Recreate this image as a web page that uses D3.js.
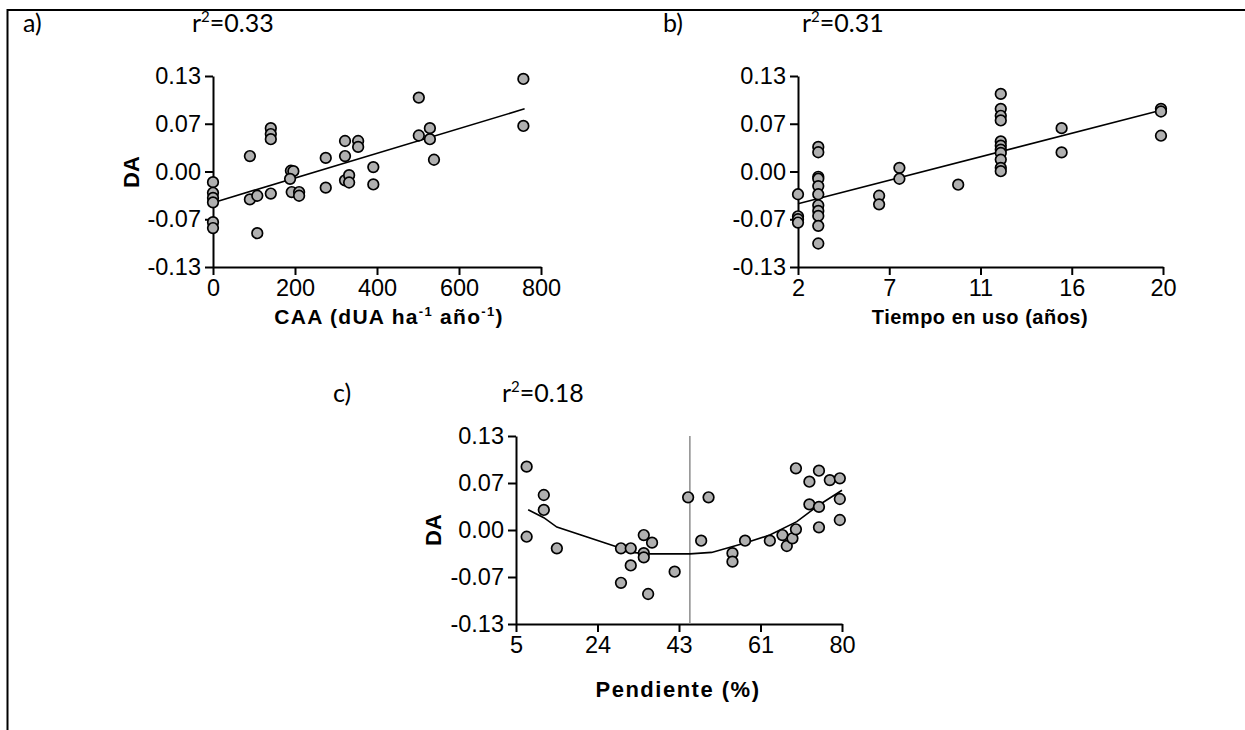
<!DOCTYPE html>
<html>
<head>
<meta charset="utf-8">
<script src="https://cdn.jsdelivr.net/npm/d3@7"></script>
<style>
  body { margin: 0; background: #fff; }
  svg { display: block; }
  .tick text { font-family: "Liberation Sans", Arial, sans-serif; font-size: 23.5px; fill: #000; }
  .domain, .tick line { stroke: #000; stroke-width: 2px; }
  .title { font-family: "Liberation Sans", Arial, sans-serif; font-weight: bold; }
  .panel { font-family: Lato, "Open Sans", sans-serif; font-size: 25px; }
</style>
</head>
<body>
<svg id="fig" width="1245" height="730"></svg>
<script>
// shared y ticks (labels are rounded in the original figure)
const daTicks = [-0.13, -0.065, 0, 0.065, 0.13];
const daTickLabels = ['-0.13', '-0.07', '0.00', '0.07', '0.13'];

// a) CAA
const caaTicks = [0, 200, 400, 600, 800];
const caaTickLabels = ['0', '200', '400', '600', '800'];
const caaX = [0, 0, 0, 0, 0, 0, 90, 90, 108, 108, 141, 141, 141, 141, 190, 196, 188, 192,
  210, 210, 275, 275, 322, 322, 322, 332, 332, 354, 354, 391, 391, 502, 502, 529, 529, 539, 757, 757];
const caaY = [-0.0145, -0.029, -0.036, -0.042, -0.069, -0.077, 0.021, -0.038, -0.033, -0.084,
  0.059, 0.051, 0.044, -0.030, 0.001, 0.0005, -0.010, -0.028, -0.028, -0.033, 0.0185, -0.022,
  0.0415, 0.021, -0.012, -0.005, -0.015, 0.0415, 0.0335, 0.006, -0.0176, 0.1006, 0.049,
  0.059, 0.044, 0.016, 0.126, 0.062];
const caaFitX = [0, 760];
const caaFitY = [-0.0424, 0.0853];

// b) Tiempo en uso
const tiempoTicks = [2, 6.5, 11, 15.5, 20];
const tiempoTickLabels = ['2', '7', '11', '16', '20'];
const tiempoX = [2, 2, 2, 2, 3, 3, 3, 3, 3, 3, 3, 3, 3, 3, 3, 6, 6, 7, 7, 9.9,
  12, 12, 12, 12, 12, 12, 12, 12, 12, 12, 12, 15, 15, 19.9, 19.9, 19.9];
const tiempoY = [-0.031, -0.061, -0.065, -0.0695,
  0.0334, 0.0262, -0.0072, -0.0099, -0.0199, -0.031, -0.046, -0.0537, -0.0605, -0.074, -0.098,
  -0.033, -0.0447, 0.005, -0.0099, -0.018,
  0.1056, 0.0853, 0.0758, 0.0695, 0.041, 0.0352, 0.0298, 0.0253, 0.0162, 0.005, 0.0004,
  0.059, 0.026, 0.0853, 0.0817, 0.0487];
const tiempoFitX = [2, 20];
const tiempoFitY = [-0.0438, 0.084];

// c) Pendiente
const pendTicks = [5, 23.75, 42.5, 61.25, 80];
const pendTickLabels = ['5', '24', '43', '61', '80'];
const pendX = [7.45, 7.45, 11.4, 11.4, 14.4, 29.15, 31.4, 31.4, 29.15, 34.4, 34.4, 34.4, 36.3, 35.4,
  41.5, 44.6, 47.6, 49.3, 54.8, 54.8, 57.7, 63.4, 66.3, 67.3, 68.6, 69.4, 69.4, 72.5, 72.5,
  74.7, 74.7, 74.7, 77.2, 79.5, 79.5, 79.5];
const pendY = [0.0876, -0.0093, 0.0484, 0.0277, -0.0253, -0.0253, -0.0253, -0.049, -0.073, -0.007,
  -0.032, -0.0378, -0.0175, -0.0885, -0.0577, 0.0452, -0.0148, 0.0452, -0.032, -0.0438, -0.0148,
  -0.0148, -0.007, -0.0221, -0.0115, 0.001, 0.0853, 0.0668, 0.0355, 0.082, 0.032, 0.0037,
  0.069, 0.0715, 0.0429, 0.0138];
const pendFitX = [7.8, 11.4, 14.4, 29, 31.5, 36, 45, 50, 57.7, 63.4, 69.6, 74.7, 80];
const pendFitY = [0.028, 0.017, 0.004, -0.025, -0.031, -0.033, -0.033, -0.031, -0.018, -0.007, 0.0115, 0.0346, 0.055];
const pendBreak = 45;

const svg = d3.select('#fig');

// outer frame (right and bottom edges fall outside the page)
svg.append('rect')
  .attr('x', 7.5).attr('y', 10).attr('width', 1260).attr('height', 760)
  .attr('fill', 'none').attr('stroke', '#000').attr('stroke-width', 2);

function panel(opt) {
  const x = d3.scaleLinear().domain(opt.xDomain).range(opt.xRange);
  const y = d3.scaleLinear().domain([-0.13, 0.13]).range(opt.yRange);
  const g = svg.append('g');

  g.append('g')
    .attr('transform', `translate(0,${opt.yRange[0]})`)
    .call(d3.axisBottom(x).tickValues(opt.xTicks)
      .tickFormat((d, i) => opt.xTickLabels[i]).tickSize(8).tickSizeOuter(0).tickPadding(4));
  g.append('g')
    .attr('transform', `translate(${opt.xRange[0]},0)`)
    .call(d3.axisLeft(y).tickValues(daTicks)
      .tickFormat((d, i) => daTickLabels[i]).tickSize(8).tickSizeOuter(0).tickPadding(4));

  if (opt.vline != null) {
    g.append('line')
      .attr('x1', x(opt.vline)).attr('x2', x(opt.vline))
      .attr('y1', y(0.13)).attr('y2', y(-0.13))
      .attr('stroke', '#8c8c8c').attr('stroke-width', 1.5);
  }

  const line = d3.line().x(d => x(d[0])).y(d => y(d[1]));
  g.append('path')
    .datum(d3.zip(opt.fitX, opt.fitY))
    .attr('d', line)
    .attr('fill', 'none').attr('stroke', '#000').attr('stroke-width', 1.6);

  g.selectAll('.pt')
    .data(d3.zip(opt.px, opt.py))
    .enter()
    .append('circle')
    .attr('class', 'pt')
    .attr('cx', d => x(d[0]))
    .attr('cy', d => y(d[1]))
    .attr('r', 5.3)
    .attr('fill', '#b0b0b0')
    .attr('stroke', '#000')
    .attr('stroke-width', 1.7);

  return { x, y, g };
}

panel({
  xDomain: [0, 800], xRange: [213, 541], yRange: [267, 76],
  xTicks: caaTicks, xTickLabels: caaTickLabels,
  px: caaX, py: caaY, fitX: caaFitX, fitY: caaFitY
});
panel({
  xDomain: [2, 20], xRange: [798, 1163], yRange: [267, 76],
  xTicks: tiempoTicks, xTickLabels: tiempoTickLabels,
  px: tiempoX, py: tiempoY, fitX: tiempoFitX, fitY: tiempoFitY
});
panel({
  xDomain: [5, 80], xRange: [516, 842], yRange: [624, 436],
  xTicks: pendTicks, xTickLabels: pendTickLabels,
  px: pendX, py: pendY, fitX: pendFitX, fitY: pendFitY, vline: pendBreak
});

// axis titles
const caaTitle = svg.append('text').attr('class', 'title')
  .attr('x', 389).attr('y', 324).attr('text-anchor', 'middle')
  .style('font-size', '21px').style('letter-spacing', '1.3px');
caaTitle.append('tspan').text('CAA (dUA ha');
caaTitle.append('tspan').attr('dy', -8).style('font-size', '13px').text('-1');
caaTitle.append('tspan').attr('dy', 8).text(' año');
caaTitle.append('tspan').attr('dy', -8).style('font-size', '13px').text('-1');
caaTitle.append('tspan').attr('dy', 8).text(')');

svg.append('text').attr('class', 'title')
  .attr('x', 980).attr('y', 324).attr('text-anchor', 'middle')
  .style('font-size', '20px').style('letter-spacing', '0.5px')
  .text('Tiempo en uso (años)');

svg.append('text').attr('class', 'title')
  .attr('x', 678).attr('y', 697).attr('text-anchor', 'middle')
  .style('font-size', '22px').style('letter-spacing', '1.5px')
  .text('Pendiente (%)');

svg.append('text').attr('class', 'title')
  .attr('transform', 'translate(139,172) rotate(-90)').attr('text-anchor', 'middle')
  .style('font-size', '22px').text('DA');
svg.append('text').attr('class', 'title')
  .attr('transform', 'translate(441,530) rotate(-90)').attr('text-anchor', 'middle')
  .style('font-size', '22px').text('DA');

// panel letters and r²
function rsq(xp, yp, val) {
  const t = svg.append('text').attr('class', 'panel').attr('x', xp).attr('y', yp);
  t.append('tspan').text('r');
  t.append('tspan').attr('dy', -10).style('font-size', '15px').text('2');
  t.append('tspan').attr('dy', 10).text('=' + val);
}
svg.append('text').attr('class', 'panel').attr('x', 23).attr('y', 32).text('a)');
rsq(192, 32, '0.33');
svg.append('text').attr('class', 'panel').attr('x', 663).attr('y', 32).text('b)');
rsq(802, 32, '0.31');
svg.append('text').attr('class', 'panel').attr('x', 333).attr('y', 402).text('c)');
rsq(502, 402, '0.18');
</script>
</body>
</html>
